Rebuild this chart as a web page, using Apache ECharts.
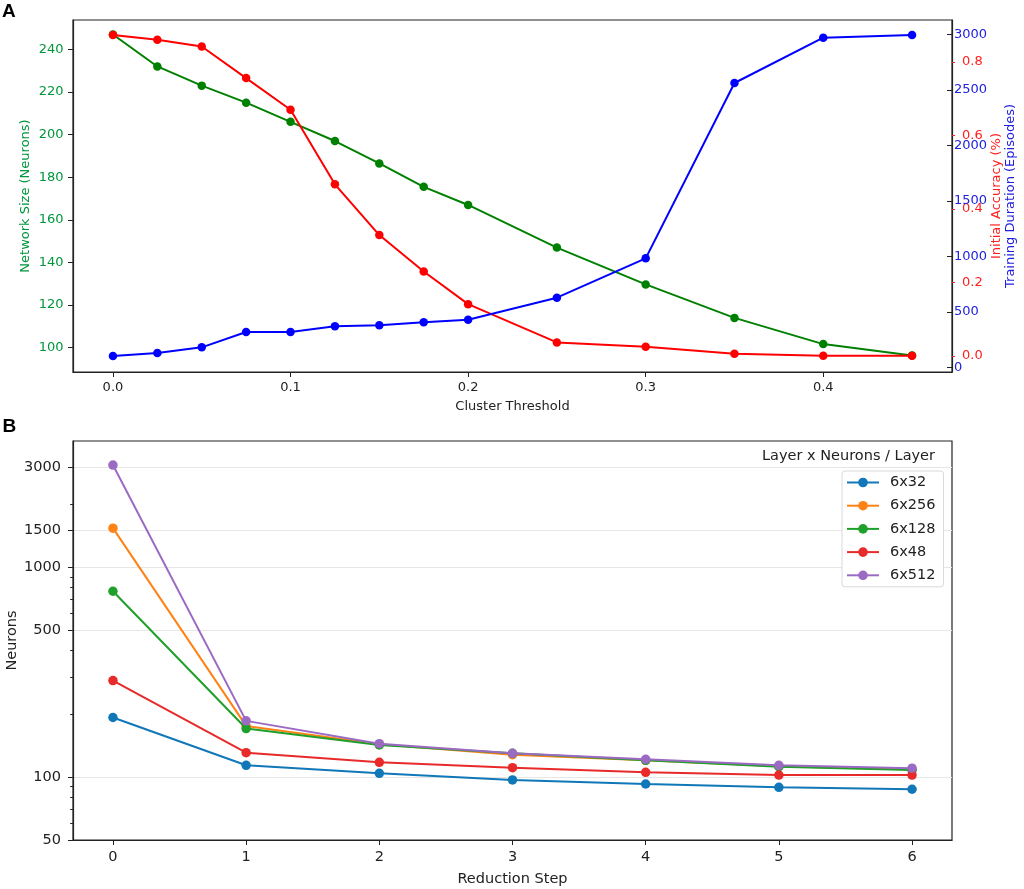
<!DOCTYPE html>
<html><head><meta charset="utf-8">
<script src="https://cdn.jsdelivr.net/npm/echarts@6/dist/echarts.min.js"></script>
<style>html,body{margin:0;padding:0;background:#fff}#c{width:1024px;height:889px}</style>
</head><body><div id="c"></div>
<script>
// ---------- Panel A data ----------
const thresholds = [0, 0.025, 0.05, 0.075, 0.1, 0.125, 0.15, 0.175, 0.2, 0.25, 0.3, 0.35, 0.4, 0.45];
const networkSize = [247, 232, 223, 215, 206, 197, 186.5, 175.5, 167, 147, 129.7, 114, 101.7, 96.3];
const initialAccuracy = [0.873, 0.860, 0.842, 0.756, 0.670, 0.467, 0.329, 0.230, 0.141, 0.037, 0.025, 0.006, 0.001, 0.001];
const trainingDuration = [105, 132, 183, 321, 321, 372, 381, 408, 432, 630, 984, 2562, 2970, 2994];
const thresholdTicks = [0, 0.1, 0.2, 0.3, 0.4];
const sizeTicks = [100, 120, 140, 160, 180, 200, 220, 240];
const accuracyTicks = [0, 0.2, 0.4, 0.6, 0.8];
const durationTicks = [0, 500, 1000, 1500, 2000, 2500, 3000];

// ---------- Panel B data ----------
const steps = [0, 1, 2, 3, 4, 5, 6];
const configNames = ['6x32', '6x256', '6x128', '6x48', '6x512'];
const n6x32  = [192, 113.6, 104, 96.7, 92.5, 89.2, 87.3];
const n6x256 = [1536, 175, 143, 127.5, 120, 112.5, 108.5];
const n6x128 = [768, 170, 142, 129.5, 120, 111.8, 107.8];
const n6x48  = [288, 130.5, 117.4, 110.6, 105.2, 102, 102];
const n6x512 = [3072, 185, 144, 129.5, 121.3, 113.6, 110];
const neuronTicks = [50, 100, 500, 1000, 1500, 3000];
const neuronMinorTicks = [60, 70, 80, 90, 200, 300, 400, 600, 700, 800, 900, 2000];
const stepTicks = [0, 1, 2, 3, 4, 5, 6];

const bSeriesValues = [n6x32, n6x256, n6x128, n6x48, n6x512];
const bColors = ['#1077b8', '#ff8214', '#1ea02a', '#e82a2a', '#9b6ac2'];

const FONT = 'DejaVu Sans';
const zip = (xs, ys) => xs.map((x, i) => [x, ys[i]]);

const chart = echarts.init(document.getElementById('c'), null, {renderer: 'canvas'});

const spine = {show: true, onZero: false, lineStyle: {color: '#222', width: 1.2}};
const plain = v => String(v);

const option = {
  animation: false,
  backgroundColor: '#fff',
  textStyle: {fontFamily: FONT},
  grid: [
    {left: 73, right: 72, top: 20, height: 352, show: true, borderColor: '#222', borderWidth: 1.2, backgroundColor: 'transparent', containLabel: false, outerBoundsMode: 'none'},
    {left: 73, right: 72, top: 441, height: 399, show: true, borderColor: '#222', borderWidth: 1.2, backgroundColor: 'transparent', containLabel: false, outerBoundsMode: 'none'}
  ],
  graphic: [
    {type: 'text', left: 2, top: 2.5, style: {text: 'A', fontFamily: 'Liberation Sans', fontWeight: 'bold', fontSize: 19, fill: '#000'}},
    {type: 'text', left: 2.5, top: 417.5, style: {text: 'B', fontFamily: 'Liberation Sans', fontWeight: 'bold', fontSize: 19, fill: '#000'}},
    {type: 'text', x: 935, y: 456.7, style: {text: 'Layer x Neurons / Layer', fontFamily: FONT, fontSize: 14.5, fill: '#222', align: 'right', verticalAlign: 'middle'}, z: 100}
  ],
  legend: {
    data: configNames,
    orient: 'vertical',
    left: 842,
    top: 471,
    padding: [4, 8, 4, 4],
    itemWidth: 32,
    itemHeight: 12,
    itemGap: 8.2,
    backgroundColor: '#fff',
    borderColor: '#d9d9d9',
    borderWidth: 1,
    borderRadius: 3,
    textStyle: {fontFamily: FONT, fontSize: 14.5, color: '#222', lineHeight: 14.5, padding: [0, 0, 0, 6]}
  },
  xAxis: [
    {
      gridIndex: 0, type: 'value', min: -0.0225, max: 0.4725,
      name: 'Cluster Threshold', nameLocation: 'middle', nameGap: 28, nameMoveOverlap: false,
      nameTextStyle: {fontFamily: FONT, fontSize: 13, color: '#222'},
      axisLine: spine,
      axisTick: {show: true, length: 5, customValues: thresholdTicks, lineStyle: {color: '#222'}},
      axisLabel: {customValues: thresholdTicks, formatter: v => v.toFixed(1), margin: 9, fontFamily: FONT, fontSize: 13, color: '#222'},
      splitLine: {show: false}
    },
    {
      gridIndex: 1, type: 'value', min: -0.3, max: 6.3,
      name: 'Reduction Step', nameLocation: 'middle', nameGap: 31.5, nameMoveOverlap: false,
      nameTextStyle: {fontFamily: FONT, fontSize: 14.5, color: '#222'},
      axisLine: spine,
      axisTick: {show: true, length: 5, customValues: stepTicks, lineStyle: {color: '#222'}},
      axisLabel: {customValues: stepTicks, formatter: plain, margin: 10, fontFamily: FONT, fontSize: 14.5, color: '#222'},
      splitLine: {show: false}
    }
  ],
  yAxis: [
    {
      gridIndex: 0, type: 'value', position: 'left', min: 88.6, max: 253.8,
      name: 'Network Size (Neurons)', nameLocation: 'middle', nameGap: 41, nameMoveOverlap: false,
      nameTextStyle: {fontFamily: FONT, fontSize: 13, color: '#00963c'},
      axisLine: spine,
      axisTick: {show: true, length: 5, customValues: sizeTicks, lineStyle: {color: '#222'}},
      axisLabel: {customValues: sizeTicks, formatter: plain, margin: 9.5, fontFamily: FONT, fontSize: 13, color: '#00963c'},
      splitLine: {show: false}
    },
    {
      gridIndex: 0, type: 'value', position: 'right', min: -0.0435, max: 0.914,
      name: 'Initial Accuracy (%)', nameLocation: 'middle', nameGap: 38, nameMoveOverlap: false,
      nameTextStyle: {fontFamily: FONT, fontSize: 13, color: '#ff2020'},
      axisLine: {show: false, onZero: false},
      axisTick: {show: true, length: 3, customValues: accuracyTicks, lineStyle: {color: '#ff2020'}},
      axisLabel: {customValues: accuracyTicks, formatter: v => v.toFixed(1), margin: 10, fontFamily: FONT, fontSize: 13, color: '#ff2020'},
      splitLine: {show: false}
    },
    {
      gridIndex: 0, type: 'value', position: 'right', min: -39, max: 3129,
      name: 'Training Duration (Episodes)', nameLocation: 'middle', nameGap: 52, nameMoveOverlap: false,
      nameTextStyle: {fontFamily: FONT, fontSize: 13, color: '#2020e0'},
      axisLine: spine,
      axisTick: {show: true, inside: true, length: 5, customValues: durationTicks, lineStyle: {color: '#222'}},
      axisLabel: {customValues: durationTicks, formatter: plain, margin: 2, fontFamily: FONT, fontSize: 13, color: '#2020e0'},
      splitLine: {show: false}
    },
    {
      gridIndex: 1, type: 'log', logBase: 10, position: 'left', min: 50, max: 4000,
      name: 'Neurons', nameLocation: 'middle', nameGap: 53.5, nameMoveOverlap: false,
      nameTextStyle: {fontFamily: FONT, fontSize: 14.5, color: '#222'},
      axisLine: spine,
      axisTick: {show: true, length: 5, customValues: neuronTicks, lineStyle: {color: '#222'}},
      axisLabel: {customValues: neuronTicks, formatter: plain, margin: 12, fontFamily: FONT, fontSize: 14.5, color: '#222'},
      splitLine: {show: true, lineStyle: {color: '#e6e6e6', width: 1.2}},
      minorTick: {show: false}
    },
    {
      gridIndex: 1, type: 'log', logBase: 10, position: 'left', min: 50, max: 4000,
      axisLine: {show: false, onZero: false},
      axisTick: {show: true, length: 2.8, customValues: neuronMinorTicks, lineStyle: {color: '#222'}},
      axisLabel: {show: false, customValues: neuronMinorTicks},
      splitLine: {show: false}
    }
  ],
  series: [
    {
      name: 'Network Size', type: 'line', xAxisIndex: 0, yAxisIndex: 0,
      data: zip(thresholds, networkSize),
      symbol: 'circle', symbolSize: 8.5, itemStyle: {color: '#008000'},
      lineStyle: {color: '#008000', width: 2}, z: 2
    },
    {
      name: 'Initial Accuracy', type: 'line', xAxisIndex: 0, yAxisIndex: 1,
      data: zip(thresholds, initialAccuracy),
      symbol: 'circle', symbolSize: 8.5, itemStyle: {color: '#ff0000'},
      lineStyle: {color: '#ff0000', width: 2}, z: 3
    },
    {
      name: 'Training Duration', type: 'line', xAxisIndex: 0, yAxisIndex: 2,
      data: zip(thresholds, trainingDuration),
      symbol: 'circle', symbolSize: 8.5, itemStyle: {color: '#0000ff'},
      lineStyle: {color: '#0000ff', width: 2}, z: 4
    }
  ].concat(configNames.map((name, i) => ({
    name: name, type: 'line', xAxisIndex: 1, yAxisIndex: 3,
    data: zip(steps, bSeriesValues[i]),
    symbol: 'circle', symbolSize: 9.5,
    itemStyle: {color: bColors[i]},
    lineStyle: {color: bColors[i], width: 2},
    z: 2 + i
  })))
};

chart.setOption(option);
</script>
</body></html>
